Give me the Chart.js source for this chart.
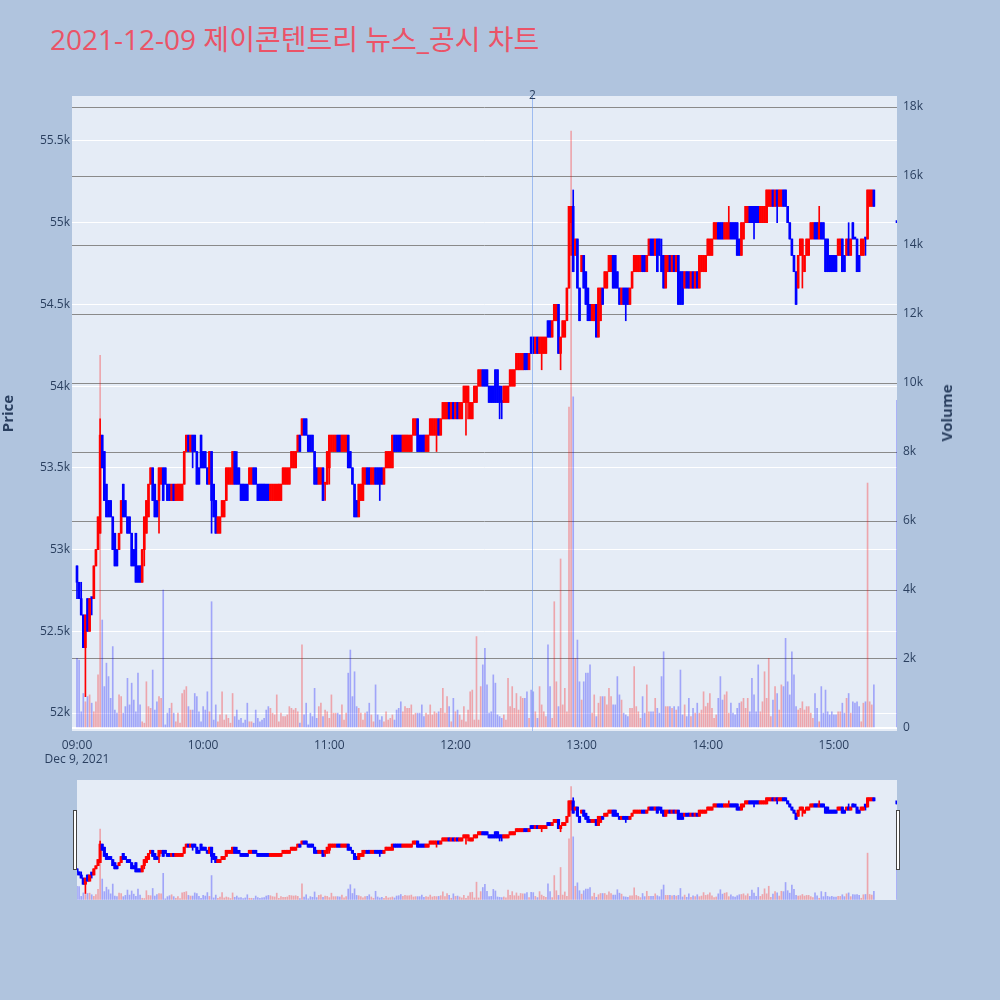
<!DOCTYPE html>
<html>
<head>
<meta charset="utf-8">
<script src="https://cdn.jsdelivr.net/npm/chart.js@4.4.0/dist/chart.umd.min.js"></script>
<style>
body { margin: 0; background: #b0c4de; font-family: "Open Sans", "Noto Sans CJK KR", sans-serif; }
#wrap { position: relative; width: 1000px; height: 1000px; overflow: hidden; }
#title { position: absolute; left: 50px; top: 25px; font-size: 28px; line-height: 28px; color: #eb5367; white-space: nowrap; }
#mainBox { position: absolute; left: 0; top: 0; }
#sliderBox { position: absolute; left: 0; top: 770px; }
.handle { position: absolute; top: 810px; width: 2px; height: 58px; background: #fff; border: 1px solid #444; }
#volTitle { position: absolute; left: 946px; top: 413px; transform: translate(-50%, -50%) rotate(-90deg); font-weight: bold; font-size: 15px; color: #2a3f5f; white-space: nowrap; }
</style>
</head>
<body>
<div id="wrap">
  <div id="title">2021-12-09 제이콘텐트리 뉴스_공시 차트</div>
  <div id="mainBox"><canvas id="main" width="1000" height="770"></canvas></div>
  <div id="sliderBox"><canvas id="slider" width="1000" height="140"></canvas></div>
  <div class="handle" style="left:73px"></div>
  <div class="handle" style="left:896px"></div>
  <div id="volTitle">Volume</div>
</div>
<script>
// 1분봉 (09:00 부터), 가격은 100원 단위
const opens = [
  529,528,527,526,524,527,525,527,527,529,530,531,537,536,534,533,533,532,531,530,
  530,531,534,533,532,532,531,530,531,529,529,528,530,531,532,534,535,534,533,533,
  534,535,535,534,534,533,534,533,533,533,533,534,536,537,536,537,537,536,535,537,
  536,536,535,534,536,534,533,531,531,532,532,533,534,534,534,536,535,535,534,534,
  534,534,534,534,535,535,534,534,534,534,534,534,533,533,533,533,533,533,534,534,
  534,534,535,535,535,536,537,537,538,538,537,537,537,536,535,534,534,535,534,534,
  535,536,536,536,537,537,536,536,536,537,536,535,534,533,532,533,533,534,535,535,
  534,534,535,535,535,535,534,535,535,535,535,537,537,537,537,536,536,536,536,536,
  537,537,538,537,537,537,536,536,537,537,537,537,538,537,538,538,538,539,538,539,
  538,539,538,538,539,539,539,538,538,539,539,540,540,541,541,541,540,540,540,541,
  541,540,539,539,539,539,540,540,540,541,541,541,541,542,542,541,543,543,542,543,
  542,542,542,542,544,544,543,544,544,545,542,543,543,544,546,550,551,548,549,546,
  547,548,547,546,545,544,544,545,543,544,546,546,546,547,547,548,548,547,546,545,
  546,546,546,545,546,547,547,547,547,548,548,547,548,549,549,548,549,549,548,548,
  546,547,548,547,548,547,548,547,547,546,547,547,546,547,546,547,546,547,547,547,
  548,548,548,549,549,550,550,550,549,549,549,550,550,550,550,549,548,549,550,550,
  551,551,551,551,551,550,550,550,550,551,551,552,551,552,551,551,552,552,551,550,
  549,548,547,546,548,548,547,548,548,549,549,550,550,549,550,550,549,549,548,548,
  548,548,548,548,549,548,548,549,548,550,549,549,548,548,548,549,549,551,551,552
];
const highs = [
  529,528,528,526,526,527,527,527,529,530,532,538,537,536,534,533,533,532,531,530,
  531,533,534,533,532,532,531,530,531,529,529,530,532,533,534,535,535,534,533,535,
  535,535,535,534,534,534,534,534,534,534,534,536,537,537,537,537,537,536,535,537,
  536,536,535,536,536,534,533,532,532,533,533,535,535,535,536,536,536,535,534,534,
  534,534,535,535,535,535,534,534,534,534,534,534,534,534,534,534,534,534,535,535,
  535,535,536,536,536,537,537,538,538,538,537,537,537,536,535,535,535,535,534,536,
  537,537,537,537,537,537,537,537,537,537,536,535,534,533,534,534,535,535,535,535,
  535,535,535,535,535,535,535,536,536,536,537,537,537,537,537,537,537,537,537,537,
  538,538,538,537,537,537,537,537,538,538,538,538,538,538,539,539,539,539,539,539,
  539,539,539,539,540,540,540,539,539,540,540,541,541,541,541,541,540,540,540,541,
  541,540,540,540,540,540,541,541,541,542,542,542,542,542,542,542,543,543,543,543,
  543,543,543,543,544,544,544,545,545,545,543,544,544,546,551,551,552,549,549,546,
  548,548,547,546,545,545,545,545,546,546,546,547,547,548,548,548,548,547,546,546,
  546,546,546,546,547,548,548,548,548,548,548,548,549,549,549,549,549,549,549,548,
  548,548,548,548,548,548,548,547,547,547,547,547,547,547,547,547,548,548,548,548,
  549,549,549,550,550,550,550,550,550,550,551,550,550,550,550,549,550,550,551,551,
  551,551,551,551,551,551,551,551,552,552,552,552,552,552,552,552,552,552,551,550,
  549,548,547,548,549,549,548,549,549,550,550,550,550,551,550,550,549,549,548,548,
  548,548,549,549,549,548,549,550,549,550,549,549,548,549,549,549,552,552,552,552
];
const lows = [
  527,527,526,524,521,525,525,526,527,529,530,531,535,533,532,532,532,530,529,529,
  530,531,532,532,531,531,529,529,528,528,528,528,529,531,532,534,533,532,532,531,
  534,533,534,533,533,533,533,533,533,533,533,534,536,536,536,535,536,534,534,535,
  535,535,534,534,531,532,531,531,531,532,532,533,534,534,534,534,534,534,533,533,
  533,533,534,534,534,534,533,533,533,533,533,533,533,533,533,533,533,533,534,534,
  534,534,535,535,535,536,536,537,537,537,536,536,536,534,534,534,534,533,533,534,
  534,536,536,536,536,536,536,536,536,535,535,534,532,532,532,533,533,534,534,534,
  534,534,534,534,533,534,534,535,535,535,535,536,536,536,536,536,536,536,536,536,
  537,537,536,536,536,536,536,536,537,537,537,536,537,537,538,538,538,538,538,538,
  538,538,538,538,539,537,538,538,538,539,539,540,540,540,540,540,539,539,539,539,
  539,538,538,539,539,539,540,540,540,541,541,541,541,541,541,541,542,542,542,542,
  542,541,542,542,543,543,543,544,544,542,541,543,543,544,546,548,547,548,546,544,
  547,546,545,544,544,544,544,543,543,544,545,546,546,547,547,546,546,546,545,545,
  545,544,545,545,546,547,547,547,547,547,547,547,548,548,548,548,547,548,547,546,
  546,547,547,547,547,547,545,545,545,546,546,546,546,546,546,546,546,547,547,547,
  548,548,548,549,549,549,549,549,549,549,549,549,549,549,548,548,548,549,550,550,
  550,550,549,550,550,550,550,550,550,551,551,551,551,550,551,551,551,551,550,549,
  548,547,545,546,548,546,547,548,548,549,549,549,549,549,549,549,547,547,547,547,
  547,547,548,548,547,547,548,548,548,549,549,547,547,548,548,548,549,551,551,551
];
const closes = [
  528,527,526,524,526,525,527,527,529,530,532,537,535,533,532,532,532,530,529,529,
  531,533,532,532,531,531,529,529,528,528,528,530,532,533,534,535,533,532,532,535,
  535,533,534,533,533,534,533,534,534,534,534,536,537,536,537,536,536,534,534,535,
  535,535,534,536,533,532,531,532,532,533,533,535,535,535,536,534,534,534,533,533,
  533,533,535,535,534,534,533,533,533,533,533,533,534,534,534,534,534,534,535,535,
  535,535,536,536,536,537,536,538,537,537,536,536,536,534,534,535,535,533,534,536,
  537,537,537,537,536,536,537,537,537,535,535,534,532,532,534,534,535,535,534,534,
  535,535,534,534,534,534,535,536,536,536,537,536,536,536,536,537,537,537,537,537,
  538,538,536,536,536,536,537,537,538,538,538,538,537,538,539,539,539,538,539,538,
  539,538,539,539,540,540,540,539,539,540,540,541,541,540,540,540,539,539,539,539,
  539,539,539,540,540,540,541,541,541,542,542,542,542,541,541,542,542,542,543,542,
  543,543,543,543,543,543,544,545,545,542,543,544,544,546,551,551,547,549,546,544,
  548,546,545,544,544,545,545,543,546,546,545,547,547,548,548,546,546,546,545,546,
  545,545,545,546,547,548,548,548,548,547,547,548,549,548,548,549,547,548,547,546,
  548,548,547,548,547,548,545,545,545,547,546,546,547,546,547,546,548,548,548,548,
  549,549,549,550,550,549,549,549,550,550,550,549,549,549,548,548,550,550,551,551,
  550,550,550,550,550,551,551,551,552,552,552,551,552,551,552,552,551,551,550,549,
  548,547,545,548,549,549,548,549,549,550,550,549,549,550,549,549,547,547,547,547,
  547,547,549,549,547,547,549,548,549,549,549,547,547,549,549,549,552,552,552,551
];
const volumes = [
  2020,1970,470,1000,760,910,960,720,470,760,1540,10800,3130,1200,1880,1490,860,2360,520,430,
  960,910,430,620,1440,670,1300,810,470,1590,670,180,140,1340,620,570,1680,520,760,910,
  860,4000,90,430,570,720,430,180,430,140,1000,1100,1200,620,520,520,1000,910,470,180,
  620,520,1050,470,3660,230,670,180,380,1050,230,380,280,140,1000,330,520,230,280,140,
  230,720,180,180,140,520,280,180,230,280,520,620,570,430,380,960,180,430,330,330,
  380,620,570,520,570,470,140,2410,380,720,90,430,330,1150,280,620,720,330,520,470,
  280,960,430,430,430,380,670,230,430,1590,2260,910,1630,620,570,430,230,430,470,720,
  380,180,1250,380,230,330,180,470,230,280,380,230,520,570,760,470,620,570,570,670,
  380,430,430,430,670,330,430,380,670,380,470,430,470,570,1150,430,910,620,180,860,
  470,520,380,230,620,180,520,1050,1100,230,2650,230,1200,1830,2310,
  1250,430,470,1540,1300,380,330,280,380,230,1440,620,1200,570,1000,520,910,860,860,1050,
  280,1100,1050,470,280,1200,670,470,330,2410,1200,280,3660,1340,620,4900,670,1150,470,
  9300,17300,9600,2020,2550,1340,810,1340,1590,1590,1830,430,960,330,720,910,910,910,670,1150,910,
  670,670,1490,960,810,430,380,330,570,570,1780,620,470,280,910,430,1250,470,470,470,
  860,570,430,1490,2210,620,620,620,570,620,520,620,1680,380,670,330,860,330,570,430,
  720,430,520,1050,620,720,1000,570,280,380,860,1490,810,960,1050,430,720,430,380,570,
  720,760,860,570,860,470,1440,960,470,1830,470,760,1630,860,2020,330,810,1200,1000,520,
  1250,1200,2600,1340,960,2210,1540,620,520,570,760,520,620,620,430,280,1000,570,180,1200,
  430,1100,470,380,470,380,380,470,470,720,430,860,1000,430,760,720,760,620,180,720,
  760,7100,760,670,1250
];
// 동시호가
const auctionTime = '15:30';
const auctionPrice = 550;
const auctionVolume = 9500;

const newsMarks = [{ time: '12:36:30', label: '2' }];
const timeTicks = ['09:00', '10:00', '11:00', '12:00', '13:00', '14:00', '15:00'];
const dateLabel = 'Dec 9, 2021';
const priceTicks = [52000, 52500, 53000, 53500, 54000, 54500, 55000, 55500];
const volumeTicks = [0, 2000, 4000, 6000, 8000, 10000, 12000, 14000, 16000, 18000];

const PRICE_MIN = 51890, PRICE_MAX = 55775;
const VOL_MIN = -87, VOL_MAX = 18319;

function toMin(t) {
    const [h, m, s = 0] = t.split(':').map(Number);
    return (h - 9) * 60 + m + s / 60;
}
function fmtTime(v) {
    const h = 9 + Math.floor(v / 60), m = Math.round(v % 60);
    return String(h).padStart(2, '0') + ':' + String(m).padStart(2, '0');
}

const candles = opens.map((o, i) => ({ t: i, o: o * 100, h: highs[i] * 100, l: lows[i] * 100, c: closes[i] * 100, v: volumes[i] }));
candles.push({ t: toMin(auctionTime), o: auctionPrice * 100, h: auctionPrice * 100, l: auctionPrice * 100, c: auctionPrice * 100, v: auctionVolume });
let prevClose = null;
candles.forEach(c => {
    c.up = c.c > c.o || (c.c === c.o && prevClose !== null && c.c > prevClose);
    prevClose = c.c;
});

function makeDatasets(bodyWidth, bodyMin) {
    const solid = candles.map(c => c.up ? '#ff0000' : '#0000ff');
    return [{
        label: 'Volume',
        yAxisID: 'y2',
        data: candles.map(c => ({ x: c.t, y: c.v })),
        backgroundColor: candles.map(c => c.up ? 'rgba(255,0,0,0.3)' : 'rgba(0,0,255,0.3)'),
        barThickness: 1,
        grouped: false,
        order: 3
    }, {
        label: 'wick',
        yAxisID: 'y',
        data: candles.map(c => ({ x: c.t, y: [c.l, c.h] })),
        backgroundColor: solid,
        barThickness: 1,
        grouped: false,
        order: 2
    }, {
        label: 'body',
        yAxisID: 'y',
        data: candles.map(c => ({ x: c.t, y: [c.o, c.c] })),
        backgroundColor: solid,
        barThickness: bodyWidth,
        minBarLength: bodyMin,
        grouped: false,
        order: 1
    }];
}

const plotBg = {
    id: 'plotBg',
    beforeDraw(chart) {
        const { ctx, chartArea: a } = chart;
        ctx.save();
        ctx.fillStyle = '#e5ecf6';
        ctx.fillRect(a.left, a.top, a.width, a.height);
        ctx.restore();
    }
};

const newsLine = {
    id: 'newsLine',
    afterDatasetsDraw(chart) {
        const { ctx, chartArea: a, scales: { x } } = chart;
        newsMarks.forEach(n => {
            const px = Math.round(x.getPixelForValue(toMin(n.time))) + 0.5;
            ctx.save();
            ctx.strokeStyle = 'rgba(100,149,237,0.55)';
            ctx.lineWidth = 1;
            ctx.beginPath();
            ctx.moveTo(px, a.top);
            ctx.lineTo(px, a.bottom);
            ctx.stroke();
            ctx.fillStyle = '#2a3f5f';
            ctx.font = '12px "Open Sans"';
            ctx.textAlign = 'center';
            ctx.textBaseline = 'bottom';
            ctx.fillText(n.label, px, a.top + 6);
            ctx.restore();
        });
    }
};

Chart.defaults.font.family = '"Open Sans", sans-serif';
Chart.defaults.font.size = 12;
Chart.defaults.color = '#2a3f5f';

new Chart(document.getElementById('main'), {
    type: 'bar',
    data: { datasets: makeDatasets(2, 2) },
    options: {
        responsive: false,
        animation: false,
        events: [],
        layout: { padding: { top: 96, left: 0, right: 0, bottom: 0 } },
        plugins: { legend: { display: false }, tooltip: { enabled: false } },
        scales: {
            x: {
                type: 'linear',
                min: -2.38,
                max: 390,
                offset: false,
                grid: { display: false },
                border: { display: false },
                afterFit: s => { s.height = 39; },
                afterBuildTicks: s => { s.ticks = timeTicks.map(t => ({ value: toMin(t) })); },
                ticks: {
                    autoSkip: false,
                    maxRotation: 0,
                    padding: -1,
                    callback: (v, i) => i === 0 ? [fmtTime(v), dateLabel] : fmtTime(v)
                }
            },
            y: {
                position: 'left',
                min: PRICE_MIN,
                max: PRICE_MAX,
                afterFit: s => { s.width = 72; },
                afterBuildTicks: s => { s.ticks = priceTicks.map(v => ({ value: v })); },
                grid: { color: '#ffffff', lineWidth: 1, drawTicks: false },
                border: { display: false },
                ticks: { padding: 2, callback: v => (v / 1000) + 'k' },
                title: { display: true, text: 'Price', padding: 0, font: { size: 15, weight: 'bold' } }
            },
            y2: {
                position: 'right',
                min: VOL_MIN,
                max: VOL_MAX,
                afterFit: s => { s.width = 103; },
                afterBuildTicks: s => { s.ticks = volumeTicks.map(v => ({ value: v })); },
                grid: {
                    color: c => c.tick && c.tick.value === 0 ? '#ffffff' : '#8a8a8a',
                    lineWidth: c => c.tick && c.tick.value === 0 ? 2 : 1,
                    drawTicks: false
                },
                border: { display: false },
                ticks: { padding: 6, callback: v => v === 0 ? '0' : (v / 1000) + 'k' }
            }
        }
    },
    plugins: [plotBg, newsLine]
});

// range slider
new Chart(document.getElementById('slider'), {
    type: 'bar',
    data: { datasets: makeDatasets(2.5, 3) },
    options: {
        responsive: false,
        animation: false,
        events: [],
        layout: { padding: { top: 10, left: 77, right: 103, bottom: 10 } },
        plugins: { legend: { display: false }, tooltip: { enabled: false } },
        scales: {
            x: { type: 'linear', min: 0, max: 390, offset: false, display: false },
            y: { min: PRICE_MIN, max: PRICE_MAX, display: false },
            y2: { position: 'right', min: VOL_MIN, max: VOL_MAX, display: false }
        }
    },
    plugins: [plotBg]
});
</script>
</body>
</html>
